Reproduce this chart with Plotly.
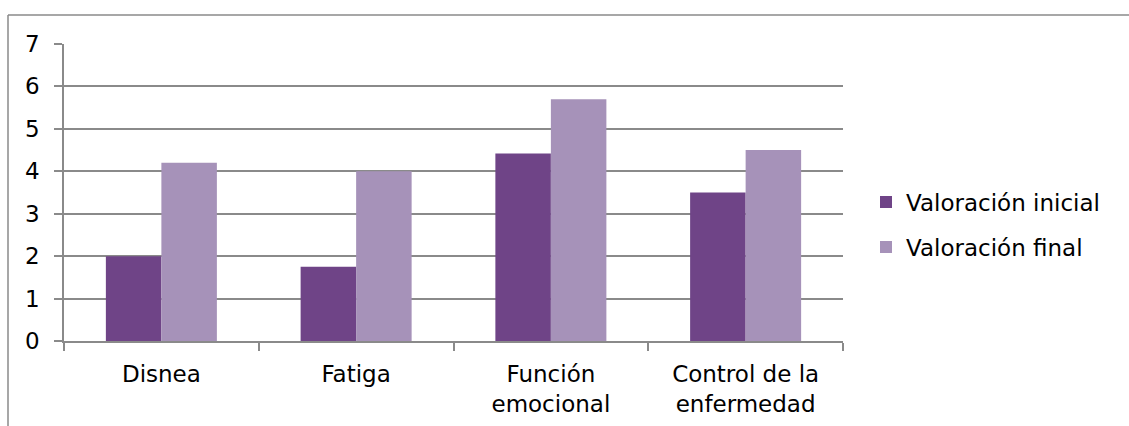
import plotly.graph_objects as go

categories = ["Disnea", "Fatiga", "Función<br>emocional", "Control de la<br>enfermedad"]
valoracion_inicial = [2.0, 1.75, 4.42, 3.5]
valoracion_final = [4.2, 4.0, 5.7, 4.5]
series_names = ["Valoración inicial", "Valoración final"]
y_ticks = [0, 1, 2, 3, 4, 5, 6, 7]

W, H = 1129, 426
L, R, T, B = 64, 286, 44, 85
pw, ph = W - L - R, H - T - B

def px_x(x):
    return (x - L) / pw

def px_y(y):
    return (H - B - y) / ph

FONT = "DejaVu Sans"
GRID = "#8a8a8a"

fig = go.Figure()
fig.add_trace(go.Bar(x=categories, y=valoracion_inicial, name=series_names[0],
                     marker=dict(color="#6f4487", line=dict(width=0)), legend="legend"))
fig.add_trace(go.Bar(x=categories, y=valoracion_final, name=series_names[1],
                     marker=dict(color="#a692b9", line=dict(width=0)), legend="legend2"))

legend_common = dict(font=dict(family=FONT, size=23, color="#000"), bgcolor="rgba(0,0,0,0)",
                     xanchor="left", yanchor="middle", itemwidth=30, borderwidth=0)

fig.update_layout(
    width=W, height=H,
    margin=dict(l=L, r=R, t=T, b=B, pad=0, autoexpand=False),
    paper_bgcolor="white", plot_bgcolor="white",
    font=dict(family=FONT, size=23, color="#000"),
    barmode="group", bargap=0.43, bargroupgap=0,
    showlegend=True,
    legend=dict(x=px_x(866), y=px_y(202), **legend_common),
    legend2=dict(x=px_x(866), y=px_y(247), **legend_common),
    xaxis=dict(type="category", showline=True, linecolor=GRID, linewidth=1.5,
               ticks="outside", tickson="boundaries", ticklen=8, tickcolor=GRID, tickwidth=1.5,
               showgrid=False, tickfont=dict(family=FONT, size=23, color="#000"),
               ticklabelstandoff=12, automargin=False),
    yaxis=dict(range=[0, 7], tickvals=y_ticks, showline=True, linecolor=GRID, linewidth=1.5,
               ticks="outside", ticklen=8, tickcolor=GRID, tickwidth=1.5,
               showgrid=True, gridcolor=GRID, gridwidth=1.5, zeroline=False,
               tickfont=dict(family=FONT, size=23, color="#000"), ticklabelstandoff=10,
               automargin=False),
    shapes=[
        dict(type="line", xref="paper", yref="paper", x0=px_x(8), x1=px_x(W + 5),
             y0=px_y(15), y1=px_y(15), line=dict(color=GRID, width=1.5)),
        dict(type="line", xref="paper", yref="paper", x0=px_x(8), x1=px_x(8),
             y0=px_y(15), y1=px_y(H + 5), line=dict(color=GRID, width=1.5)),
    ],
)

fig.write_html("out.html")
